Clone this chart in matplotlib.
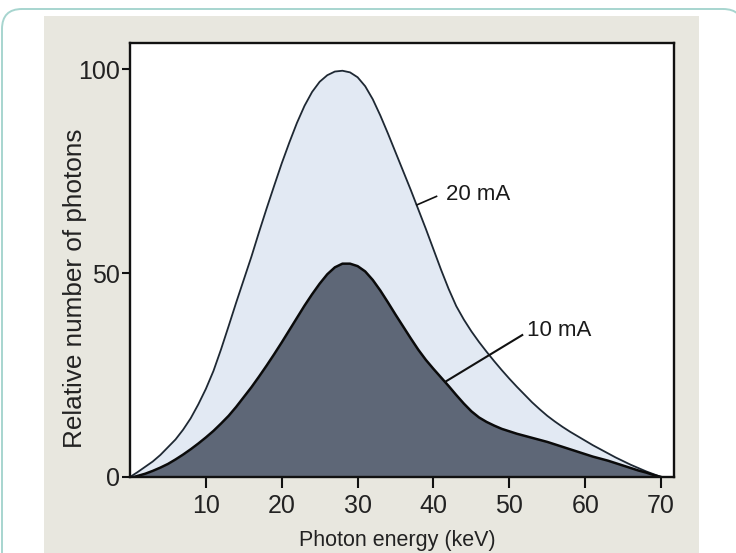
import matplotlib
matplotlib.use("Agg")
import matplotlib.pyplot as plt
from matplotlib.patches import Rectangle, FancyBboxPatch
from matplotlib.transforms import IdentityTransform

# ---- data ----
x_20mA = [0, 1, 2, 3, 4, 5, 6, 7, 8, 9, 10, 11, 12, 13, 14, 15, 16, 17, 18, 19,
          20, 21, 22, 23, 24, 25, 26, 27, 28, 29, 30, 31, 32, 33, 34, 35, 36, 37,
          38, 39, 40, 41, 42, 43, 44, 45, 46, 47, 48, 49, 50, 51, 52, 53, 54, 55,
          56, 57, 58, 59, 60, 61, 62, 63, 64, 65, 66, 67, 68, 69, 70]
y_20mA = [0.0, 1.2, 2.5, 3.8, 5.4, 7.3, 9.2, 11.6, 14.4, 17.8, 21.6, 26.0, 31.3,
          37.0, 42.8, 48.4, 54.0, 60.0, 65.8, 71.4, 76.9, 82.0, 86.8, 91.0, 94.4,
          96.9, 98.5, 99.4, 99.6, 99.2, 98.0, 95.8, 92.6, 88.6, 84.2, 79.6, 75.0,
          70.4, 65.6, 60.8, 55.8, 50.8, 46.1, 41.9, 38.6, 35.7, 33.1, 30.7, 28.4,
          26.2, 24.1, 22.1, 20.2, 18.3, 16.6, 15.0, 13.6, 12.3, 11.1, 10.0, 8.9,
          7.8, 6.8, 5.8, 4.8, 3.9, 3.0, 2.2, 1.4, 0.7, 0.0]

x_10mA = [0.5, 2, 3, 4, 5, 6, 7, 8, 9, 10, 11, 12, 13, 14, 15, 16, 17, 18, 19,
          20, 21, 22, 23, 24, 25, 26, 27, 28, 29, 30, 31, 32, 33, 34, 35, 36, 37,
          38, 39, 40, 41, 42, 43, 44, 45, 46, 47, 48, 49, 50, 51, 52, 53, 54, 55,
          56, 57, 58, 59, 60, 61, 62, 63, 64, 65, 66, 67, 68, 69, 70]
y_10mA = [0.0, 0.8, 1.5, 2.3, 3.2, 4.3, 5.5, 6.8, 8.2, 9.7, 11.3, 13.1, 15.0,
          17.2, 19.6, 22.0, 24.6, 27.3, 30.1, 33.0, 36.0, 39.0, 42.0, 44.8, 47.4,
          49.7, 51.4, 52.3, 52.3, 51.7, 50.4, 48.3, 45.7, 42.8, 39.8, 36.9, 34.0,
          31.2, 28.7, 26.5, 24.4, 22.3, 20.1, 18.0, 16.1, 14.6, 13.5, 12.6, 11.8,
          11.2, 10.6, 10.1, 9.6, 9.1, 8.6, 8.0, 7.4, 6.8, 6.2, 5.6, 5.0, 4.5, 4.0,
          3.4, 2.8, 2.2, 1.6, 1.1, 0.5, 0.0]

x_ticks = [10, 20, 30, 40, 50, 60, 70]
y_ticks = [0, 50, 100]
x_label = "Photon energy (keV)"
y_label = "Relative number of photons"
label_20 = "20 mA"
label_10 = "10 mA"

# ---- figure ----
W, H = 736, 553
plt.rcParams['font.family'] = ['Liberation Sans', 'DejaVu Sans']
fig = plt.figure(figsize=(W / 100, H / 100), dpi=100)
fig.patch.set_facecolor('white')

def px(x, y):
    """top-left pixel coords -> display coords"""
    return x, H - y

# outer rounded border
border = FancyBboxPatch(px(2, 620), 741, 611, boxstyle="round,pad=0,rounding_size=20",
                        transform=IdentityTransform(), facecolor='white',
                        edgecolor='#a7d5cf', linewidth=1.4, zorder=0)
fig.patches.append(border)
# inner panel
panel = Rectangle(px(44, 560), 655, 544, transform=IdentityTransform(),
                  facecolor='#e8e7df', edgecolor='none', zorder=1)
fig.patches.append(panel)

L, R, T, B = 130, 674, 43, 477
ax = fig.add_axes([L / W, 1 - B / H, (R - L) / W, (B - T) / H])
ax.set_facecolor('white')
ax.set_zorder(2)

light = '#e2e9f3'
dark = '#5e6777'
ax.fill_between(x_20mA, y_20mA, 0, color=light, lw=0, zorder=1)
ax.fill_between(x_10mA, y_10mA, 0, color=dark, lw=0, zorder=2)
ax.plot(x_20mA, y_20mA, color='#1e2833', lw=1.3, zorder=3, solid_joinstyle='round')
ax.plot(x_10mA, y_10mA, color='#0a0a0a', lw=1.8, zorder=4, solid_joinstyle='round')

# leader lines and labels
ax.plot([37.8, 40.4], [66.7, 68.8], color='#111111', lw=1.2, zorder=5)
ax.text(41.6, 69.3, label_20, fontsize=16, color='#1a1a1a', ha='left', va='center', zorder=6)
ax.plot([41.6, 51.7], [23.4, 34.8], color='#111111', lw=1.5, zorder=5)
ax.text(52.3, 36.0, label_10, fontsize=16, color='#1a1a1a', ha='left', va='center', zorder=6)

ax.set_xlim(0, 71.7)
ax.set_ylim(0, 106.4)
ax.set_xticks(x_ticks)
ax.set_yticks(y_ticks)
for s in ax.spines.values():
    s.set_linewidth(1.7)
    s.set_color('#111111')
    s.set_zorder(10)
ax.tick_params(axis='x', direction='out', length=8, width=1.5, pad=4,
               labelsize=18, labelcolor='#222222', color='#111111')
ax.tick_params(axis='y', direction='out', length=6, width=1.5, pad=1,
               labelsize=18, labelcolor='#222222', color='#111111')

fig.text(397 / W, 1 - 546 / H, x_label, fontsize=15.5, color='#222222',
         ha='center', va='baseline', zorder=5)
fig.text(75 / W, 1 - 288 / H, y_label, fontsize=18.8, color='#222222', rotation=90,
         ha='center', va='center', zorder=5)

fig.savefig('out.png', dpi=100, facecolor=fig.get_facecolor())
